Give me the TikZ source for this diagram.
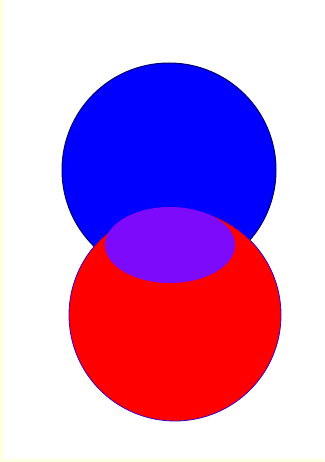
\documentclass[tikz,border=0pt]{standalone}
\begin{document}
\definecolor{paleyellow}{RGB}{255,255,228}
\definecolor{lens}{RGB}{125,10,250}
\begin{tikzpicture}[x=1pt,y=-1pt]
\useasboundingbox (0,0) rectangle (324,462);
\fill[paleyellow] (0,0) rectangle (324,462);
\fill[white] (4,0) rectangle (324,459);

\draw[fill=blue, draw={rgb,255:red,0;green,0;blue,110}, line width=1pt] (169,170) circle (107);
\draw[fill=red, draw={rgb,255:red,60;green,0;blue,200}, line width=0.8pt] (175,315) circle (106);
\fill[lens] (170,245) ellipse (65 and 38);
\end{tikzpicture}
\end{document}
